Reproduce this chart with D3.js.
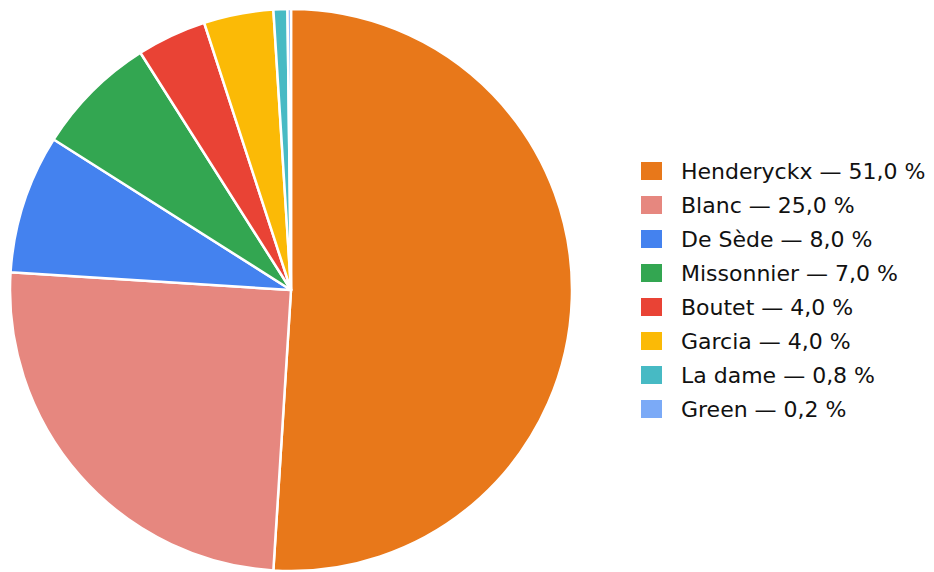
<!DOCTYPE html>
<html><head><meta charset="utf-8">
<script src="https://cdn.jsdelivr.net/npm/d3@7"></script>
<style>html,body{margin:0;padding:0;background:#fff;}svg{display:block;}</style>
</head><body>
<svg id="chart" width="934" height="572"></svg>
<script>
const labels = ["Henderyckx","Blanc","De Sède","Missonnier","Boutet","Garcia","La dame","Green"];
const values = [51.0,25.0,8.0,7.0,4.0,4.0,0.8,0.2];
const colors = ["#E8781A","#E6877F","#4482EF","#33A651","#E94335","#FBBA06","#47BAC4","#7BAAF7"];

const svg = d3.select("#chart");
const cx = 291, cy = 290, r = 281;
const data = labels.map((l,i)=>({label:l,value:values[i],color:colors[i]}));
const pie = d3.pie().value(d=>d.value).sort(null);
const arc = d3.arc().innerRadius(0).outerRadius(r);
const g = svg.append("g").attr("transform",`translate(${cx},${cy})`);
g.selectAll("path").data(pie(data)).join("path")
  .attr("d",arc).attr("fill",d=>d.data.color)
  .attr("stroke","#fff").attr("stroke-width",2.5).attr("stroke-linejoin","round");

const fmt = v => v.toFixed(1).replace(".",",") + " %";
const lg = svg.append("g").attr("transform","translate(641,162)");
const row = lg.selectAll("g").data(data).join("g").attr("transform",(d,i)=>`translate(0,${i*34})`);
row.append("rect").attr("width",21).attr("height",18).attr("fill",d=>d.color);
row.append("text").attr("x",40).attr("y",9).attr("dy","0.36em")
  .attr("font-family","DejaVu Sans, sans-serif").attr("font-size",22).attr("fill","#111")
  .text(d=>`${d.label} — ${fmt(d.value)}`);
</script>
</body></html>
